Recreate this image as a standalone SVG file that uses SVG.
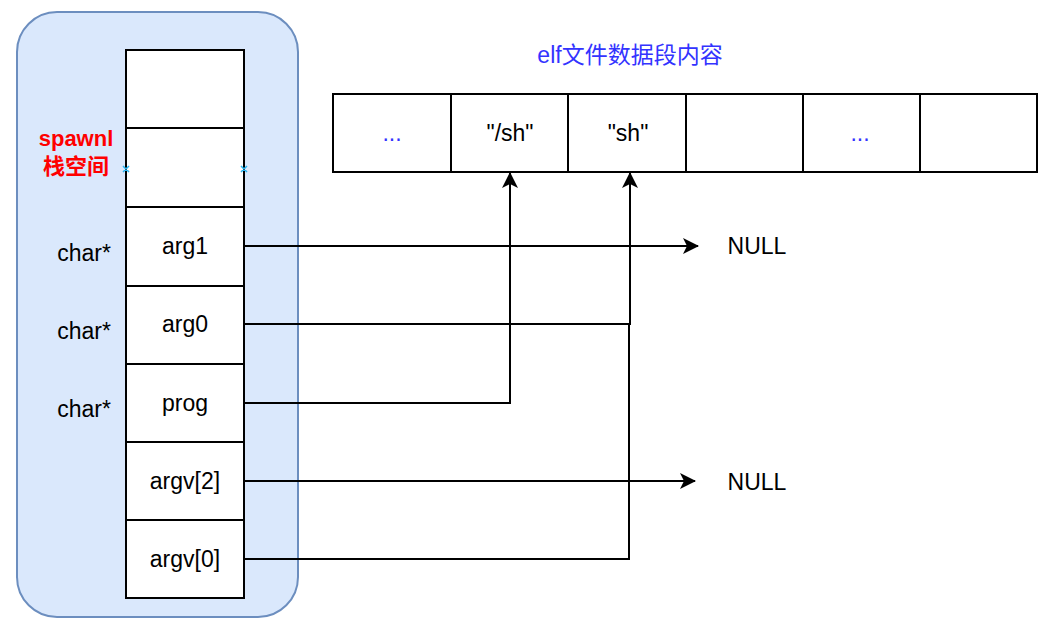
<svg xmlns="http://www.w3.org/2000/svg" width="1046" height="628" viewBox="0 0 1046 628">
<style>
.cell{fill:#fff;stroke:#000;stroke-width:2}
.t{font-family:"Liberation Sans",Arial,sans-serif;font-size:23px;fill:#000;text-anchor:middle;dominant-baseline:central}
.dots{fill:#3333ff}
.red{fill:#ff0000;font-weight:bold;font-size:22px;font-family:"Liberation Sans","Noto Sans CJK SC",sans-serif}
.conn{fill:none;stroke:#000;stroke-width:2}
.x{stroke:#29b6f2;stroke-width:1.5}
</style>
<defs>
<marker id="arr" viewBox="0 0 16 16" refX="15" refY="8" markerWidth="16" markerHeight="16" markerUnits="userSpaceOnUse" orient="auto">
<path d="M0,0 L16,8 L0,16 L4,8 Z" fill="#000"/>
</marker>
</defs>
<g id="container">
<rect x="17" y="12" width="281" height="605" rx="40" ry="40" fill="#dae8fc" stroke="#6c8ebf" stroke-width="2"/>
</g>
<g id="stack-label">
<text x="76" y="138" class="t red">spawnl</text>
<text x="76" y="166" class="t red">栈空间</text>
</g>
<g id="stack">
<rect class="cell" x="126" y="50" width="118" height="78"/>
<rect class="cell" x="126" y="128" width="118" height="79"/>
<g id="cell-arg1"><rect class="cell" x="126" y="207" width="118" height="79"/><text class="t" x="185" y="246">arg1</text></g>
<g id="cell-arg0"><rect class="cell" x="126" y="286" width="118" height="78"/><text class="t" x="185" y="324">arg0</text></g>
<g id="cell-prog"><rect class="cell" x="126" y="364" width="118" height="78"/><text class="t" x="185" y="403">prog</text></g>
<g id="cell-argv2"><rect class="cell" x="126" y="442" width="118" height="78"/><text class="t" x="185" y="481">argv[2]</text></g>
<g id="cell-argv0"><rect class="cell" x="126" y="520" width="118" height="78"/><text class="t" x="185" y="559">argv[0]</text></g>
<path class="x" d="M123,166 l6,6 M129,166 l-6,6 M241,166 l6,6 M247,166 l-6,6"/>
</g>
<g id="types">
<text class="t" x="84" y="253">char*</text>
<text class="t" x="84" y="331">char*</text>
<text class="t" x="84" y="409">char*</text>
</g>
<g id="elf-title">
<text class="t" x="630" y="55" style="fill:#3333ff;font-family:'Liberation Sans','Noto Sans CJK SC',sans-serif">elf文件数据段内容</text>
</g>
<g id="elf">
<g id="elf-0"><rect class="cell" x="333" y="94" width="118" height="78"/><text class="t dots" x="392" y="133">...</text></g>
<g id="elf-1"><rect class="cell" x="451" y="94" width="117" height="78"/><text class="t" x="510" y="133">"/sh"</text></g>
<g id="elf-2"><rect class="cell" x="568" y="94" width="118" height="78"/><text class="t" x="628" y="133">"sh"</text></g>
<g id="elf-3"><rect class="cell" x="686" y="94" width="117" height="78"/></g>
<g id="elf-4"><rect class="cell" x="803" y="94" width="117" height="78"/><text class="t dots" x="860" y="133">...</text></g>
<g id="elf-5"><rect class="cell" x="920" y="94" width="117" height="78"/></g>
</g>
<g id="nulls">
<text class="t" x="757" y="246">NULL</text>
<text class="t" x="757" y="482">NULL</text>
</g>
<g id="connectors">
<path class="conn" d="M244,246 H698" marker-end="url(#arr)"/>
<path class="conn" d="M244,324 H630 V173" marker-end="url(#arr)"/>
<path class="conn" d="M244,403 H510 V173" marker-end="url(#arr)"/>
<path class="conn" d="M244,481 H695" marker-end="url(#arr)"/>
<path class="conn" d="M244,559 H629 V324"/>
</g>
</svg>
